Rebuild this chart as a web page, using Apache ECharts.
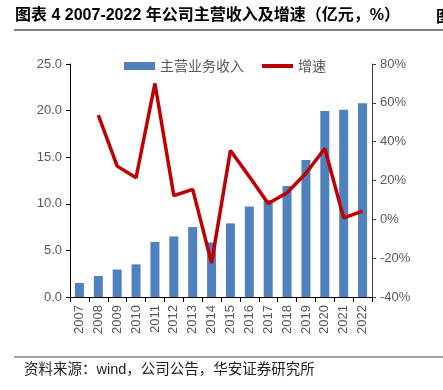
<!DOCTYPE html>
<html><head><meta charset="utf-8">
<script src="https://cdn.jsdelivr.net/npm/echarts@6/dist/echarts.min.js"></script>
<style>html,body{margin:0;padding:0;background:#fff}#c{width:443px;height:390px}</style>
</head><body><div id="c"></div>
<script>
const years = ['2007','2008','2009','2010','2011','2012','2013','2014','2015','2016','2017','2018','2019','2020','2021','2022'];
const revenue = [1.5, 2.25, 2.95, 3.5, 5.9, 6.5, 7.5, 5.85, 7.9, 9.7, 10.4, 11.9, 14.7, 19.95, 20.1, 20.8];
const growth = [null, 53.7, 27.4, 21.4, 70.0, 12.2, 15.4, -22.5, 35.5, 22.0, 8.2, 13.7, 23.7, 36.5, 0.7, 4.2];
const leftTicks = {min: 0, max: 25, interval: 5};
const rightTicks = {min: -40, max: 80, interval: 20};
const titleText = '图表 4 2007-2022 年公司主营收入及增速（亿元，%）';
const sourceText = '资料来源：wind，公司公告，华安证券研究所';

const chart = echarts.init(document.getElementById('c'));
const font = "'Liberation Sans', Arial, 'Noto Sans CJK SC', sans-serif";
chart.setOption({
  animation: false,
  textStyle: {fontFamily: font},
  grid: {left: 70, right: 71, top: 64, bottom: 93},
  legend: {
    top: 54, left: 119, itemGap: 18, itemWidth: 31, itemHeight: 8,
    textStyle: {color: '#595959', fontSize: 14, fontFamily: "'Noto Sans CJK SC', sans-serif"},
    data: [
      {name: '主营业务收入', icon: 'rect'},
      {name: '增速', icon: 'path://M0,0L31,0L31,4L0,4Z'}
    ]
  },
  xAxis: {
    type: 'category', data: years, boundaryGap: true,
    axisLine: {lineStyle: {color: '#000', width: 1}},
    axisTick: {show: true, alignWithLabel: false, length: 5, lineStyle: {color: '#000'}},
    axisLabel: {rotate: 90, color: '#595959', fontSize: 13, margin: 8, interval: 0}
  },
  yAxis: [{
    type: 'value', min: leftTicks.min, max: leftTicks.max, interval: leftTicks.interval,
    axisLine: {show: true, lineStyle: {color: '#000'}},
    axisTick: {show: true, length: 4, lineStyle: {color: '#000'}},
    splitLine: {show: false},
    axisLabel: {color: '#595959', fontSize: 13, margin: 8, formatter: v => v.toFixed(1)}
  }, {
    type: 'value', min: rightTicks.min, max: rightTicks.max, interval: rightTicks.interval,
    position: 'right',
    axisLine: {show: true, lineStyle: {color: '#404040'}},
    axisTick: {show: true, length: 4, lineStyle: {color: '#404040'}},
    splitLine: {show: false},
    axisLabel: {color: '#595959', fontSize: 13, margin: 8, formatter: v => v + '%'}
  }],
  series: [{
    name: '主营业务收入', type: 'bar', data: revenue, barWidth: 9,
    itemStyle: {color: '#4F81BD'}
  }, {
    name: '增速', type: 'line', yAxisIndex: 1, data: growth, symbol: 'none',
    lineStyle: {color: '#C00000', width: 3.5}, itemStyle: {color: '#C00000'}
  }],
  graphic: [
    {type: 'text', left: 15, top: 8, style: {text: titleText, fill: '#000', font: "bold 16px 'Liberation Sans', 'Noto Sans CJK SC', sans-serif"}},
    {type: 'text', left: 436, top: 8, style: {text: '图', fill: '#000', font: "bold 16px 'Noto Sans CJK SC', sans-serif"}},
    {type: 'line', shape: {x1: 14, y1: 30, x2: 443, y2: 30}, style: {stroke: '#808080', lineWidth: 2}},
    {type: 'line', shape: {x1: 14, y1: 357, x2: 443, y2: 357}, style: {stroke: '#808080', lineWidth: 1.5}},
    {type: 'text', left: 24, top: 363, style: {text: sourceText, fill: '#222', font: "14.5px 'Liberation Sans', 'Noto Sans CJK SC', sans-serif"}}
  ]
});
</script></body></html>
